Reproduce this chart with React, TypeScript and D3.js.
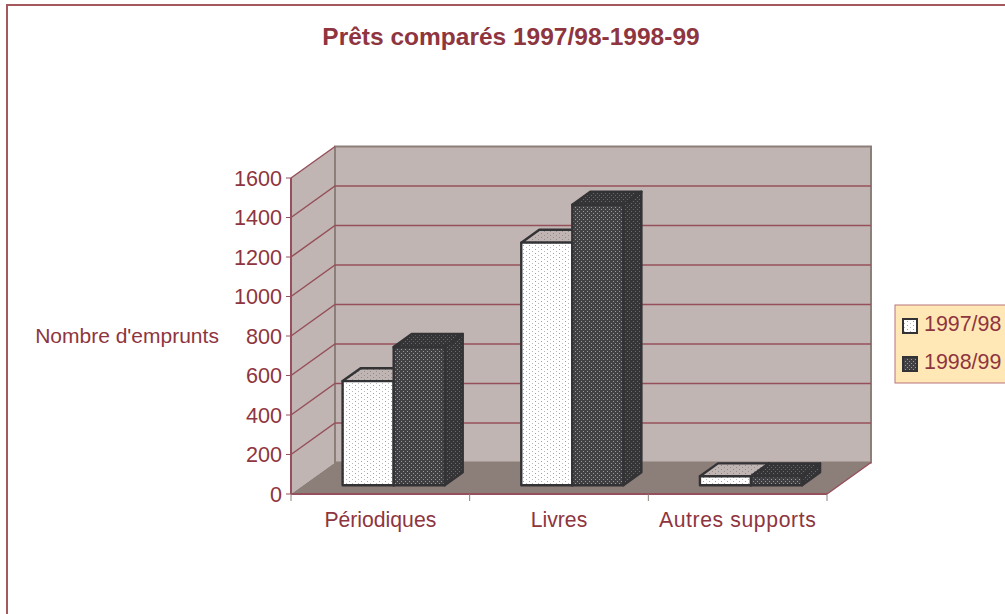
import React from "react";
import * as d3 from "d3";

const categories = ["Périodiques", "Livres", "Autres supports"];
const seriesNames = ["1997/98", "1998/99"];
const values9798 = [527, 1228, 45];
const values9899 = [700, 1420, 45];
const yTicks = [0, 200, 400, 600, 800, 1000, 1200, 1400, 1600];

const TEXT = "#8e3540";
const GRID = "#96505b";
const WALL = "#c0b5b2";
const FLOOR = "#8c7e79";
const EDGE = "#333336";

const width = 1005,
  height = 614;
const left = 291,
  right = 827,
  bottom = 494,
  top = 178;
// depth of the 3d box, in pixels
const depthX = 44,
  depthY = 31.5;

const y = d3.scaleLinear().domain([0, 1600]).range([bottom, top]);
const x = d3.scaleBand().domain(categories).range([left, right]);
const inner = d3
  .scaleBand()
  .domain(seriesNames)
  .range([1, x.bandwidth() + 1])
  .paddingOuter(0.75)
  .paddingInner(0);

// z goes 0 (front of floor) to 1 (back wall)
const px = (xv: number, z: number) => xv + z * depthX;
const py = (yv: number, z: number) => yv - z * depthY;
const poly = (pts: [number, number][]) => pts.map((p) => p.join(",")).join(" ");

const zFront = 0.28;
const zBack = 0.69;

function Bar({ cat, name, value, dark }: { cat: string; name: string; value: number; dark: boolean }) {
  const x0 = (x(cat) as number) + (inner(name) as number);
  const x1 = x0 + inner.bandwidth();
  const y0 = y(0);
  const y1 = y(value);
  const stroke = { stroke: EDGE, strokeWidth: 2.4, strokeLinejoin: "round" as const };
  return (
    <g>
      <polygon
        points={poly([
          [px(x1, zFront), py(y0, zFront)],
          [px(x1, zBack), py(y0, zBack)],
          [px(x1, zBack), py(y1, zBack)],
          [px(x1, zFront), py(y1, zFront)],
        ])}
        fill={dark ? "url(#darkSide)" : "url(#lightFront)"}
        {...stroke}
      />
      <polygon
        points={poly([
          [px(x0, zFront), py(y1, zFront)],
          [px(x0, zBack), py(y1, zBack)],
          [px(x1, zBack), py(y1, zBack)],
          [px(x1, zFront), py(y1, zFront)],
        ])}
        fill={dark ? "url(#darkSide)" : "url(#lightTop)"}
        {...stroke}
      />
      <polygon
        points={poly([
          [px(x0, zFront), py(y0, zFront)],
          [px(x0, zFront), py(y1, zFront)],
          [px(x1, zFront), py(y1, zFront)],
          [px(x1, zFront), py(y0, zFront)],
        ])}
        fill={dark ? "url(#darkFront)" : "url(#lightFront)"}
        {...stroke}
      />
    </g>
  );
}

export default function App() {
  const font = "'Liberation Sans', Arial, sans-serif";
  return (
    <svg
      width={width}
      height={height}
      style={{ position: "absolute", left: 0, top: 0, background: "#fff" }}
      fontFamily={font}
    >
      <defs>
        <pattern id="lightFront" width="6" height="4" patternUnits="userSpaceOnUse">
          <rect width="6" height="4" fill="#fff" />
          <rect x="1" y="1" width="1" height="1" fill="#a0a0a0" />
          <rect x="4" y="3" width="1" height="1" fill="#b8b8b8" />
        </pattern>
        <pattern id="lightTop" width="6" height="4" patternUnits="userSpaceOnUse">
          <rect width="6" height="4" fill={WALL} />
          <rect x="1" y="1" width="1" height="1" fill="#8a8a8a" />
          <rect x="4" y="3" width="1" height="1" fill="#8f8f8f" />
        </pattern>
        <pattern id="darkFront" width="4" height="4" patternUnits="userSpaceOnUse">
          <rect width="4" height="4" fill="#414144" />
          <rect x="1" y="1" width="1" height="1" fill="#9a9a9a" />
          <rect x="3" y="3" width="1" height="1" fill="#9a9a9a" />
        </pattern>
        <pattern id="darkSide" width="4" height="4" patternUnits="userSpaceOnUse">
          <rect width="4" height="4" fill="#353537" />
          <rect x="1" y="1" width="1" height="1" fill="#6a6a6b" />
          <rect x="3" y="3" width="1" height="1" fill="#6a6a6b" />
        </pattern>
      </defs>

      {/* outer frame, runs off the page on the right and bottom */}
      <rect x={7} y={5} width={1100} height={700} fill="none" stroke="#a5595f" strokeWidth={2} />

      <text x={511} y={45} textAnchor="middle" fontSize={24.5} fontWeight="bold" fill={TEXT}>
        Prêts comparés 1997/98-1998-99
      </text>

      {/* walls and floor */}
      <polygon
        points={poly([
          [px(left, 0), py(bottom, 0)],
          [px(left, 1), py(bottom, 1)],
          [px(left, 1), py(top, 1)],
          [px(left, 0), py(top, 0)],
        ])}
        fill={WALL}
      />
      <rect
        x={px(left, 1)}
        y={py(top, 1)}
        width={right - left}
        height={bottom - top}
        fill={WALL}
        stroke={FLOOR}
        strokeWidth={2}
      />
      {yTicks.slice(1, -1).map((t) => (
        <polyline
          key={t}
          points={poly([
            [px(left, 0), py(y(t), 0)],
            [px(left, 1), py(y(t), 1)],
            [px(right, 1), py(y(t), 1)],
          ])}
          fill="none"
          stroke={GRID}
          strokeWidth={1.5}
        />
      ))}
      <line x1={left} y1={top} x2={px(left, 1)} y2={py(top, 1)} stroke={GRID} strokeWidth={1.5} />
      <polygon
        points={poly([
          [px(left, 0), py(bottom, 0)],
          [px(left, 1), py(bottom, 1)],
          [px(right, 1), py(bottom, 1)],
          [px(right, 0), py(bottom, 0)],
        ])}
        fill={FLOOR}
      />
      <line x1={px(right, 0)} y1={bottom} x2={px(right, 1)} y2={py(bottom, 1)} stroke={GRID} strokeWidth={1.5} />

      {/* bars */}
      {categories.map((c, i) => (
        <g key={c}>
          <Bar cat={c} name={seriesNames[0]} value={values9798[i]} dark={false} />
          <Bar cat={c} name={seriesNames[1]} value={values9899[i]} dark={true} />
        </g>
      ))}

      {/* axes */}
      <line x1={left} y1={top} x2={left} y2={bottom} stroke={GRID} strokeWidth={2} />
      <line x1={left} y1={bottom} x2={right} y2={bottom} stroke={GRID} strokeWidth={2} />
      {yTicks.map((t) => (
        <g key={t}>
          <line x1={left - 5} x2={left} y1={y(t)} y2={y(t)} stroke={GRID} strokeWidth={1} />
          <text x={left - 9} y={y(t) + 7.5} textAnchor="end" fontSize={21.6} fill={TEXT}>
            {t}
          </text>
        </g>
      ))}
      {[...categories.map((c) => x(c) as number), right].map((v) => (
        <line key={v} x1={v} x2={v} y1={bottom} y2={bottom + 7} stroke={FLOOR} strokeWidth={1} />
      ))}
      {categories.map((c) => (
        <text
          key={c}
          x={(x(c) as number) + x.bandwidth() / 2}
          y={527}
          textAnchor="middle"
          fontSize={21.2}
          letterSpacing={c.length > 12 ? 0.6 : 0}
          fill={TEXT}
        >
          {c}
        </text>
      ))}
      <text x={127} y={343} textAnchor="middle" fontSize={21} fill={TEXT}>
        Nombre d'emprunts
      </text>

      {/* legend */}
      <rect x={895} y={305} width={120} height={78} fill="#ffe8b5" stroke="#b5737a" strokeWidth={1} />
      {seriesNames.map((s, i) => (
        <g key={s}>
          <rect
            x={903}
            y={319 + i * 38}
            width={14}
            height={14}
            fill={i === 0 ? "url(#lightFront)" : "url(#darkFront)"}
            stroke={EDGE}
            strokeWidth={2}
          />
          <text x={924} y={331 + i * 38} fontSize={21.4} fill={TEXT}>
            {s}
          </text>
        </g>
      ))}
    </svg>
  );
}
